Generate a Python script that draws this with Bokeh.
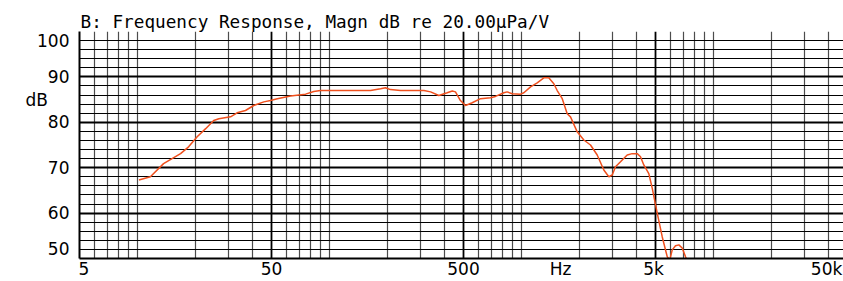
from bokeh.plotting import figure
from bokeh.models import Range1d, Grid, FixedTicker
from bokeh.embed import file_html
from bokeh.resources import INLINE

# ---- data ----
freq_hz = [10.2, 11.7, 13.7, 16.8, 18.5, 20.5, 22.7, 25.0, 26.6, 30.6,
           33.1, 36.6, 40.4, 45.6, 49.4, 53.6, 62.8, 75.2, 83.0, 90.0,
           164, 185, 196, 208, 235, 311, 337, 372, 411, 437,
           454, 482, 512, 555, 613, 691, 734, 811, 844, 897,
           991, 1031, 1117, 1210, 1310, 1390, 1477, 1538, 1634, 1734,
           1804, 1955, 2117, 2293, 2485, 2690, 2856, 2975, 3095, 3286,
           3561, 3780, 4014, 4177, 4345, 4614, 4806, 5104, 5418, 5753,
           5936, 6110, 6356, 6613, 6886, 7166, 7250]
magn_db = [67.3, 68.0, 70.9, 73.1, 74.6, 76.8, 78.6, 80.4, 80.8, 81.2,
           82.1, 82.6, 83.7, 84.5, 84.8, 85.2, 85.8, 86.2, 86.8, 87.0,
           87.0, 87.4, 87.6, 87.2, 87.0, 87.0, 86.7, 85.9, 86.5, 86.9,
           86.7, 84.8, 83.7, 84.3, 85.2, 85.4, 85.7, 86.5, 86.7, 86.3,
           86.2, 86.5, 87.8, 88.7, 89.8, 89.8, 88.5, 87.0, 85.2, 81.9,
           81.2, 77.9, 76.1, 75.0, 72.8, 69.5, 68.0, 68.4, 70.2, 71.3,
           72.8, 73.1, 73.1, 72.4, 70.6, 68.7, 65.5, 60.0, 54.8, 50.4,
           49.7, 51.9, 52.8, 53.0, 52.3, 50.4, 49.9]

x_tick_values = [5, 50, 500, 5000, 50000]
x_tick_labels = ["5", "50", "500", "5k", "50k"]
x_unit_label = "Hz"
x_minor_values = [6, 7, 8, 9, 10, 20, 30, 40,
                  60, 70, 80, 90, 100, 200, 300, 400,
                  600, 700, 800, 900, 1000, 2000, 3000, 4000,
                  6000, 7000, 8000, 9000, 10000, 20000, 30000, 40000]
y_tick_values = [100, 90, 80, 70, 60, 50]
y_tick_labels = ["100", "90", "80", "70", "60", "50"]
y_unit_label = "dB"
y_minor_values = [52, 54, 56, 58, 62, 64, 66, 68, 72, 74, 76, 78,
                  82, 84, 86, 88, 92, 94, 96, 98]
title_text = "B: Frequency Response, Magn dB re 20.00\u03bcPa/V"

FONT = "DejaVu Sans"
X_END = 47650  # the frame is cut just before the 50k line, as in the reference

p = figure(width=843, height=281, x_axis_type="log",
           x_range=Range1d(5, X_END), y_range=Range1d(50, 100),
           output_backend="svg", toolbar_location=None,
           min_border_left=79, min_border_right=0,
           min_border_top=31, min_border_bottom=22)
p.outline_line_color = None
p.grid.visible = False
p.background_fill_color = "white"
p.border_fill_color = "white"

# title
p.title.text = title_text
p.title.text_font = "DejaVu Sans Mono"
p.title.text_font_size = "17.7px"
p.title.text_font_style = "normal"
p.title.text_color = "black"
p.title.align = "left"
p.title.offset = 1
p.title.standoff = 0

# ---- y axis: tick labels (edge labels nudged inward as in the reference) ----
y_label_pos = []
y_overrides = {}
for v, t in zip(y_tick_values, y_tick_labels):
    pos = float(v)
    if v == 100:
        pos = 98.0
    elif v == 50:
        pos = 52.0
    y_label_pos.append(pos)
    y_overrides[pos] = t
dB_pos = 84.9
y_label_pos.append(dB_pos)
y_overrides[dB_pos] = y_unit_label + "\u00a0\u00a0\u00a0\u00a0"

yax = p.yaxis[0]
yax.ticker = FixedTicker(ticks=sorted(y_label_pos))
yax.major_label_overrides = y_overrides
yax.major_label_text_font = FONT
yax.major_label_text_font_size = "17px"
yax.major_label_text_color = "black"
yax.major_label_standoff = 10

# ---- x axis: tick labels ----
x_label_pos = []
x_overrides = {}
for v, t in zip(x_tick_values, x_tick_labels):
    pos = float(v)
    if v == 5:
        pos = 5.27
    elif v == 5000:
        pos = 4880.0
    elif v == 50000:
        pos = 38900.0   # pulled inside so the label stays on the page
    x_label_pos.append(pos)
    x_overrides[pos] = t
hz_pos = 1600.0
x_label_pos.append(hz_pos)
x_overrides[hz_pos] = x_unit_label

xax = p.xaxis[0]
xax.ticker = FixedTicker(ticks=sorted(x_label_pos))
xax.major_label_overrides = x_overrides
xax.major_label_text_font = FONT
xax.major_label_text_font_size = "17px"
xax.major_label_text_color = "black"
xax.major_label_standoff = 0

for ax in [xax, yax]:
    ax.major_tick_line_color = None
    ax.minor_tick_line_color = None
    ax.major_tick_in = 0
    ax.major_tick_out = 0
    ax.minor_tick_in = 0
    ax.minor_tick_out = 0
    ax.axis_line_color = "black"
    ax.axis_line_width = 2

# ---- grids ----
p.add_layout(Grid(dimension=0, ticker=FixedTicker(ticks=x_minor_values),
                  grid_line_color="black", grid_line_alpha=0.7, grid_line_width=1.2))
p.add_layout(Grid(dimension=0, ticker=FixedTicker(ticks=x_tick_values),
                  grid_line_color="black", grid_line_width=1.8))
p.add_layout(Grid(dimension=1, ticker=FixedTicker(ticks=y_minor_values),
                  grid_line_color="black", grid_line_width=1))
p.add_layout(Grid(dimension=1, ticker=FixedTicker(ticks=y_tick_values),
                  grid_line_color="black", grid_line_width=2))

p.line(freq_hz, magn_db, line_color="#f0501e", line_width=1.5)

open("out.html", "w").write(file_html(p, INLINE))
